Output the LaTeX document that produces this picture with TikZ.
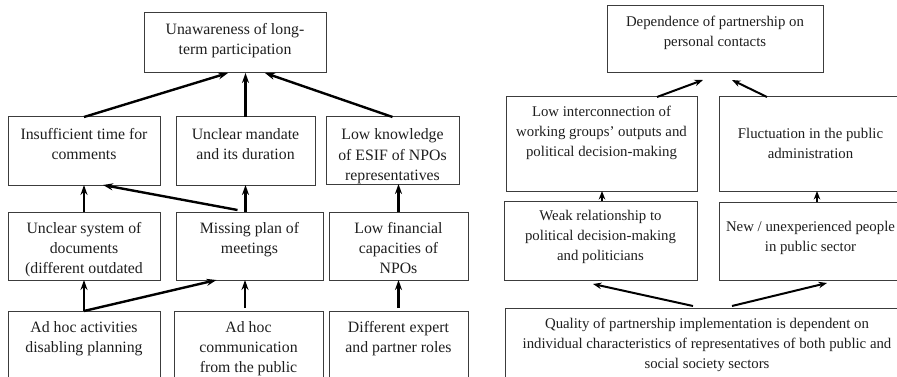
\documentclass[tikz,border=0pt]{standalone}
\usepackage{fontspec}
\setmainfont{Liberation Serif}
\usetikzlibrary{arrows.meta,calc}
\definecolor{bcol}{HTML}{3C3C3C}
\definecolor{tcol}{HTML}{1E1E1E}
\newcommand\lfont{\fontsize{15.8}{20}\selectfont}
\newcommand\rfont{\fontsize{14.8}{20}\selectfont}
% #1 font, #2 name, #3 x, #4 y, #5 width, #6 height, #7 text offset, #8 text
\newcommand\mybox[8]{%
\node[bx,minimum width=#5pt,minimum height=#6pt,
  path picture={\node[txt,font=#1,anchor=north] at ([yshift=-#7pt]path picture bounding box.north) {\strut #8};}]
  (#2) at (#3,#4) {};}
\tikzset{
  bx/.style={draw=bcol,line width=1pt,inner sep=0pt,outer sep=0pt,anchor=north west},
  txt/.style={align=center,inner sep=0pt,text=tcol,minimum width=0pt,minimum height=0pt,draw=none},
  arrL/.style={-{Stealth[length=10pt,width=7pt]},line width=2.4pt,draw=black},
  arrR/.style={-{Stealth[length=8.5pt,width=6.5pt]},line width=2pt,draw=black},
}
\begin{document}
\begin{tikzpicture}[x=1pt,y=-1pt]
\useasboundingbox (0,0) rectangle (897,377);
% left panel
\mybox{\lfont}{T}{144}{13}{182}{60}{8}{Unawareness of long-\\term participation}
\mybox{\lfont}{B1}{8}{117}{152}{68}{9}{Insufficient time for\\comments}
\mybox{\lfont}{B2}{176}{117}{139}{68}{9}{Unclear mandate\\and its duration}
\mybox{\lfont}{B3}{326}{117}{133}{67}{9}{Low knowledge\\of ESIF of NPOs\\representatives}
\mybox{\lfont}{C1}{8}{212}{152}{68}{7}{Unclear system of\\documents\\(different outdated}
\mybox{\lfont}{C2}{176}{212}{147}{68}{7}{Missing plan of\\meetings}
\mybox{\lfont}{C3}{329}{212}{139}{68}{7}{Low financial\\capacities of\\NPOs}
\mybox{\lfont}{D1}{8}{311}{152}{90}{7}{Ad hoc activities\\disabling planning}
\mybox{\lfont}{D2}{174}{311}{149}{90}{7}{Ad hoc\\communication\\from the public}
\mybox{\lfont}{D3}{329}{311}{139}{90}{7}{Different expert\\and partner roles}
\draw[arrL] (B1.north) -- ([xshift=-7pt]T.south);
\draw[arrL] (B2.north) -- (B2.north |- T.south);
\draw[arrL] (B3.north) -- ([xshift=30pt]T.south);
\draw[arrL] (C1.north) -- (B1.south);
\draw[arrL] (B2.south |- C2.north) -- (B2.south);
\draw[arrL] ([xshift=-12pt,yshift=2pt]C2.north) -- ([xshift=19pt]B1.south);
\draw[arrL] (C3.north) -- (C3.north |- B3.south);
\draw[arrL] (D1.north) -- (C1.south);
\draw[arrL] (D1.north) -- ([xshift=-33pt]C2.south);
\draw[arrL] ([xshift=-3.5pt,yshift=3pt]D2.north) -- ([xshift=-3.5pt]D2.north |- C2.south);
\draw[arrL] ([yshift=3pt]D3.north) -- (D3.north |- C3.south);
% right panel
\mybox{\rfont}{RT}{607}{6}{216}{67}{7}{Dependence of partnership on\\personal contacts}
\mybox{\rfont}{R1}{506}{97}{191}{94}{6}{Low interconnection of\\working groups’ outputs and\\political decision-making}
\mybox{\rfont}{R2}{719}{97}{183}{94}{27}{Fluctuation in the public\\administration}
\mybox{\rfont}{S1}{504}{201}{193}{79}{5}{Weak relationship to\\political decision-making\\and politicians}
\mybox{\rfont}{S2}{719}{202}{183}{78}{15}{New / unexperienced people\\in public sector}
\mybox{\rfont}{Q}{505}{308}{404}{90}{6}{Quality of partnership implementation is dependent on\\individual characteristics of representatives of both public and\\social society sectors}
\draw[arrR] ([xshift=55.5pt]R1.north) -- ([xshift=-12pt,yshift=-7pt]RT.south);
\draw[arrR] ([xshift=-43.5pt]R2.north) -- ([xshift=17pt,yshift=-7pt]RT.south);
\draw[arrR] ([xshift=1.5pt]S1.north) -- ([xshift=1.5pt]S1.north |- R1.south);
\draw[arrR] ([xshift=6.5pt]S2.north) -- ([xshift=6.5pt]S2.north |- R2.south);
\draw[arrR] ([xshift=-14pt,yshift=2pt]Q.north) -- ([xshift=-7.5pt,yshift=-4pt]S1.south);
\draw[arrR] ([xshift=25pt,yshift=2pt]Q.north) -- ([xshift=16.5pt,yshift=-3pt]S2.south);
\end{tikzpicture}
\end{document}
